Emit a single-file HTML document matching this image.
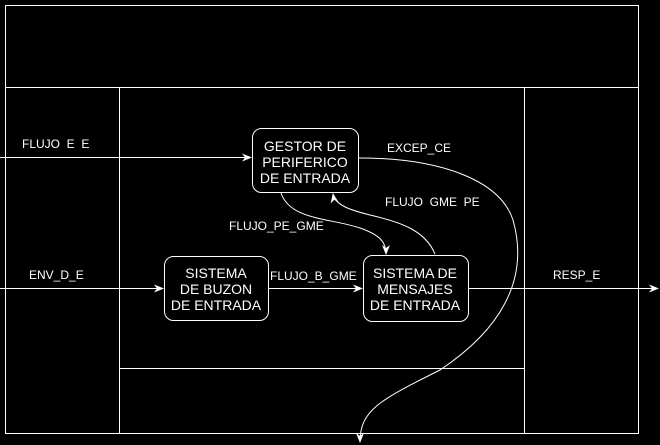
<!DOCTYPE html>
<html><head><style>
html,body{margin:0;padding:0;background:#000;}
svg{display:block}
text{font-family:"Liberation Sans",Arial,sans-serif;fill:#fff;font-size:12px;white-space:pre}
.b{font-size:14px;text-anchor:middle}
</style></head><body>
<svg width="660" height="445" viewBox="0 0 660 445">
<defs><marker id="a" markerWidth="10" markerHeight="8" refX="9" refY="4" orient="auto" markerUnits="userSpaceOnUse"><path d="M0,0 L10,4 L0,8 L3,4 Z" fill="#fff"/></marker></defs>
<g stroke="#fff" stroke-width="1" fill="none">
<rect x="5.5" y="5.5" width="633" height="428"/>
<line x1="5" y1="87.5" x2="638" y2="87.5"/>
<line x1="119.5" y1="87" x2="119.5" y2="434"/>
<line x1="524.5" y1="87" x2="524.5" y2="434"/>
<line x1="120" y1="368.5" x2="524" y2="368.5"/>
<rect x="252.5" y="128.5" width="106" height="64" rx="9"/>
<rect x="164.5" y="256.5" width="104" height="64" rx="9"/>
<rect x="363.5" y="255.5" width="105" height="66" rx="9"/>
<line x1="0" y1="157.5" x2="251" y2="157.5" marker-end="url(#a)"/>
<line x1="0" y1="288.5" x2="163" y2="288.5" marker-end="url(#a)"/>
<line x1="268" y1="288.5" x2="362" y2="288.5" marker-end="url(#a)"/>
<line x1="468" y1="288.5" x2="658" y2="288.5" marker-end="url(#a)"/>
<path d="M281,193 C290,220 330,218 360,228 C380,235 386,242 386,254" marker-end="url(#a)"/>
<path d="M435,254 C425,230 400,222 370,215 C350,210 335,205 333,194" marker-end="url(#a)"/>
<path d="M359,158 C440,158 500,180 513,220 C530,280 500,330 440,370 C380,400 360,410 360,442" marker-end="url(#a)"/>
</g>
<text x="22" y="148" xml:space="preserve">FLUJO  E  E</text>
<text x="29" y="279">ENV_D_E</text>
<text x="270" y="280">FLUJO_B_GME</text>
<text x="553" y="279">RESP_E</text>
<text x="387" y="152">EXCEP_CE</text>
<text x="385" y="206" xml:space="preserve">FLUJO  GME  PE</text>
<text x="229" y="230">FLUJO_PE_GME</text>
<text class="b" x="305" y="151">GESTOR DE</text>
<text class="b" x="305" y="167">PERIFERICO</text>
<text class="b" x="305" y="183">DE ENTRADA</text>
<text class="b" x="216" y="278">SISTEMA</text>
<text class="b" x="216" y="294">DE BUZON</text>
<text class="b" x="216" y="310">DE ENTRADA</text>
<text class="b" x="415" y="278">SISTEMA DE</text>
<text class="b" x="415" y="294">MENSAJES</text>
<text class="b" x="415" y="310">DE ENTRADA</text>
</svg>
</body></html>
